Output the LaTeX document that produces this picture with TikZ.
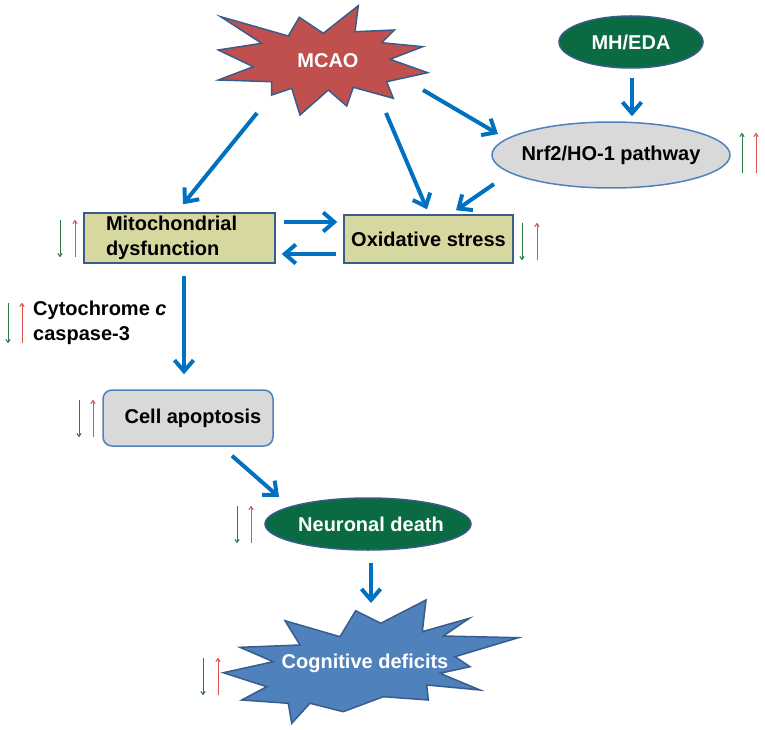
\documentclass[tikz,border=0pt]{standalone}
\usepackage{fontspec}
\setmainfont{Liberation Sans}
\usetikzlibrary{arrows.meta,shapes.geometric}
\definecolor{flowblue}{HTML}{0070C0}
\definecolor{starred}{HTML}{C0504D}
\definecolor{edgeblue}{HTML}{385D8A}
\definecolor{boxblue}{HTML}{4F81BD}
\definecolor{darkgreen}{HTML}{0A6A42}
\definecolor{lightgray}{HTML}{D9D9D9}
\definecolor{olivebox}{HTML}{D7D7A0}
\definecolor{smallgreen}{HTML}{2F7A4A}
\definecolor{smallred}{HTML}{D9534F}
\begin{document}
\begin{tikzpicture}[x=1pt,y=-1pt,
  font=\fontsize{20}{25}\selectfont\bfseries,
  flow/.style={draw=flowblue, line width=4pt, -{Straight Barb[length=11pt,width=19pt]}},
  obox/.style={rectangle, draw=edgeblue, line width=1.5pt, fill=olivebox, inner sep=0pt},
  gbox/.style={rectangle, draw=boxblue, line width=1.5pt, fill=lightgray, inner sep=0pt},
  oval/.style={ellipse, draw=edgeblue, line width=1.5pt, inner sep=0pt},
  starshape/.style={draw=edgeblue, line width=1.5pt, line join=miter},
  gdown/.style={draw=smallgreen, line width=1pt, -{To[length=4pt,width=5pt]}},
  rup/.style={draw=smallred, line width=1pt, -{To[length=4pt,width=5pt]}}
]
\useasboundingbox (0,0) rectangle (765,730);
\fill[white] (0,0) rectangle (765,730);

% MCAO star
\draw[starshape, fill=starred] (220.7,16.7) -- (288.3,36) -- (299.3,17.3) -- (323.3,33.3) -- (358.3,5.7) -- (355,31.7) -- (394.3,30) -- (381.7,42.7) -- (422.7,46.7) -- (390,59.3) -- (427.7,72.7) -- (386.7,81.7) -- (393.3,98.3) -- (353.3,87.3) -- (346.7,106) -- (328.3,90) -- (300,115) -- (291.7,88.3) -- (271.7,95) -- (271.7,81.7) -- (218.3,80) -- (253.3,66.7) -- (218.3,50) -- (261.7,43.3) -- cycle;
\node[text=white] (mcao) at (328,61) {MCAO};
\coordinate (mcao-sw) at (257,113);
\coordinate (mcao-s) at (386,113);
\coordinate (mcao-se) at (423,90);

% Cognitive deficits star
\draw[starshape, fill=boxblue] (355.7,610.7) -- (380.7,623.3) -- (426,600) -- (422.3,631.7) -- (469.3,618.3) -- (443.3,636) -- (518.3,637.7) -- (455,656.7) -- (470,666.7) -- (440,673.3) -- (480,690) -- (426.7,685) -- (428.3,700) -- (383.3,696.7) -- (343.3,711.7) -- (310,703.3) -- (291.7,723.3) -- (288.3,703.3) -- (241.7,700) -- (266.7,686.7) -- (223.3,672.7) -- (273.3,661.7) -- (240,647.3) -- (300,645) -- (285,620.7) -- (340,636.7) -- cycle;
\node[text=white] (cog) at (365,663) {Cognitive deficits};
\coordinate (cog-top) at (371,603);

% ovals
\node[oval, fill=darkgreen, minimum width=144pt, minimum height=52pt,
      label={[name=mheda-t, text=white]center:MH/EDA}] (mheda) at (631,42) {};
\node[oval, draw=boxblue, fill=lightgray, minimum width=238pt, minimum height=66pt,
      label={[name=nrf2-t]center:Nrf2/HO-1 pathway}] (nrf2) at (611,155) {};
\node[oval, fill=darkgreen, minimum width=206pt, minimum height=52pt,
      label={[name=neuro-t, text=white, xshift=3pt]center:Neuronal death}] (neuro) at (368,524) {};

% boxes
\node[obox, text width=147pt, inner xsep=22pt, minimum height=50pt, align=left] (mito) at (179.5,238) {Mitochondrial\\dysfunction};
\node[obox, minimum width=169pt, minimum height=48pt] (oxi) at (428.5,239) {Oxidative stress};
\node[gbox, rounded corners=9pt, minimum width=170pt, minimum height=56pt] (cell) at (188,418) {\hspace*{10pt}Cell apoptosis};

% cytochrome text
\node[anchor=west, align=left, inner sep=0pt] (cyto) at (33,323) {Cytochrome \textit{c}\\caspase-3};

% flow arrows
\draw[flow] (mcao-sw) -- ([xshift=3.5pt,yshift=8pt]mito.north);
\draw[flow] (mcao-s) -- ([xshift=-1.5pt,yshift=5pt]oxi.north);
\draw[flow] (mcao-se) -- ([xshift=-113pt,yshift=21pt]nrf2.center);
\draw[flow] ([xshift=-117pt,yshift=-29pt]nrf2.center) -- ([xshift=27.5pt,yshift=4pt]oxi.north);
\draw[flow] ([xshift=1pt,yshift=-9pt]mheda.south) -- ([xshift=21pt,yshift=5pt]nrf2.north);
\draw[flow] ([xshift=8pt,yshift=16pt]mito.east) -- ([xshift=-6pt,yshift=17pt]oxi.west);
\draw[flow] ([xshift=-7pt,yshift=-15pt]oxi.west) -- ([xshift=6pt,yshift=-16pt]mito.east);
\draw[flow] ([xshift=4.5pt,yshift=-12pt]mito.south) -- ([xshift=-4pt,yshift=15pt]cell.north);
\draw[flow] ([xshift=44pt,yshift=-9pt]cell.south) -- ([xshift=-89pt,yshift=27pt]neuro.center);
\draw[flow] ([xshift=3pt,yshift=-12pt]neuro.south) -- (cog-top);

% small up/down arrows
\draw[gdown] (60,220) -- (60,257);  \draw[rup] (75,257) -- (75,220);
\draw[gdown] (8,303) -- (8,343);    \draw[rup] (22,343) -- (22,303);
\draw[gdown] (522,223) -- (522,260); \draw[rup] (537,260) -- (537,223);
\draw[rup, draw=smallgreen] (742,173) -- (742,133); \draw[rup] (756,173) -- (756,133);
\draw[gdown] (79,400) -- (79,437);  \draw[rup] (93,437) -- (93,400);
\draw[gdown] (237,506) -- (237,543); \draw[rup] (251,543) -- (251,506);
\draw[gdown] (203,658) -- (203,695); \draw[rup] (218,695) -- (218,658);
\end{tikzpicture}
\end{document}
